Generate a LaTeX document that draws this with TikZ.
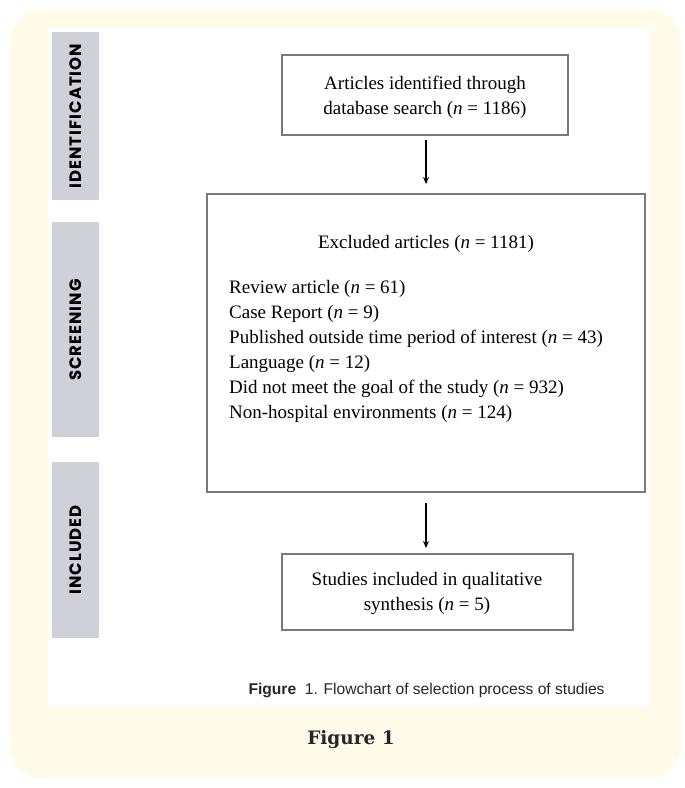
\documentclass[tikz,border=0pt]{standalone}
\usepackage{fontspec}
\setmainfont{Liberation Serif}
\newfontfamily\capfont{Liberation Sans}
\newfontfamily\labfont[LetterSpace=6]{Poppins}
\newfontfamily\figfont{DejaVu Serif}
\usetikzlibrary{arrows.meta}
\definecolor{cream}{HTML}{FFFBE8}
\definecolor{barg}{HTML}{D0D0D8}
\definecolor{boxg}{HTML}{7A7A7A}
\tikzset{
  flowbox/.style={draw=boxg, line width=1.1pt, fill=white},
  stagebar/.style={fill=barg, draw=none},
  stagelab/.style={font=\labfont\bfseries\fontsize{16.5}{18}\selectfont, rotate=90, text=black},
  boxtext/.style={font=\fontsize{19}{25}\selectfont, align=center},
  flowarrow/.style={-{Stealth[length=7pt,width=6pt]}, line width=1.2pt, black}
}
\begin{document}
\begin{tikzpicture}[x=1pt,y=-1pt]
\useasboundingbox (0,0) rectangle (685,788);
\fill[white] (0,0) rectangle (685,788);
% cream panel
\fill[cream, rounded corners=32pt] (10,10) rectangle (681,778);
% white inner panel
\fill[white] (48,28) rectangle (650,706);
% stage bars
\fill[stagebar] (52,32) rectangle (99,200);
\fill[stagebar] (52,222) rectangle (99,437);
\fill[stagebar] (52,462) rectangle (99,638);
\node[stagelab] (lid) at (75.5,116) {IDENTIFICATION};
\node[stagelab] (lsc) at (75.5,330) {SCREENING};
\node[stagelab] (lin) at (75.5,550) {INCLUDED};
% boxes
\draw[flowbox] (282,55) rectangle (568,135);
\node[boxtext] (b1) at (425,97) {Articles identified through\\database search (\textit{n} = 1186)};
\draw[flowbox] (207,194) rectangle (645,492);
\node[font=\fontsize{19}{25}\selectfont, anchor=center] (ex) at (426,244) {Excluded articles (\textit{n} = 1181)};
\node[font=\fontsize{19}{25}\selectfont, align=left, anchor=north west, inner sep=0pt] (list) at (229,280) {Review article (\textit{n} = 61)\\
Case Report (\textit{n} = 9)\\
Published outside time period of interest (\textit{n} = 43)\\
Language (\textit{n} = 12)\\
Did not meet the goal of the study (\textit{n} = 932)\\
Non-hospital environments (\textit{n} = 124)};
\draw[flowbox] (282,554) rectangle (573,630);
\node[boxtext] (b3) at (427,593) {Studies included in qualitative\\synthesis (\textit{n} = 5)};
% arrows
\coordinate (a1s) at (426,140);
\coordinate (a1e) at (426,184);
\coordinate (a2s) at (426,503);
\coordinate (a2e) at (426,548);
\draw[flowarrow] (a1s) -- (a1e);
\draw[flowarrow] (a2s) -- (a2e);
% captions
\node[font=\capfont\fontsize{15.6}{17}\selectfont, text=black!85, anchor=west] (cap) at (245,690) {\textbf{Figure}\ \ 1. Flowchart of selection process of studies};
\node[font=\figfont\bfseries\fontsize{18.5}{20}\selectfont, text=black!85] (fig) at (351,740) {Figure 1};
\end{tikzpicture}
\end{document}
